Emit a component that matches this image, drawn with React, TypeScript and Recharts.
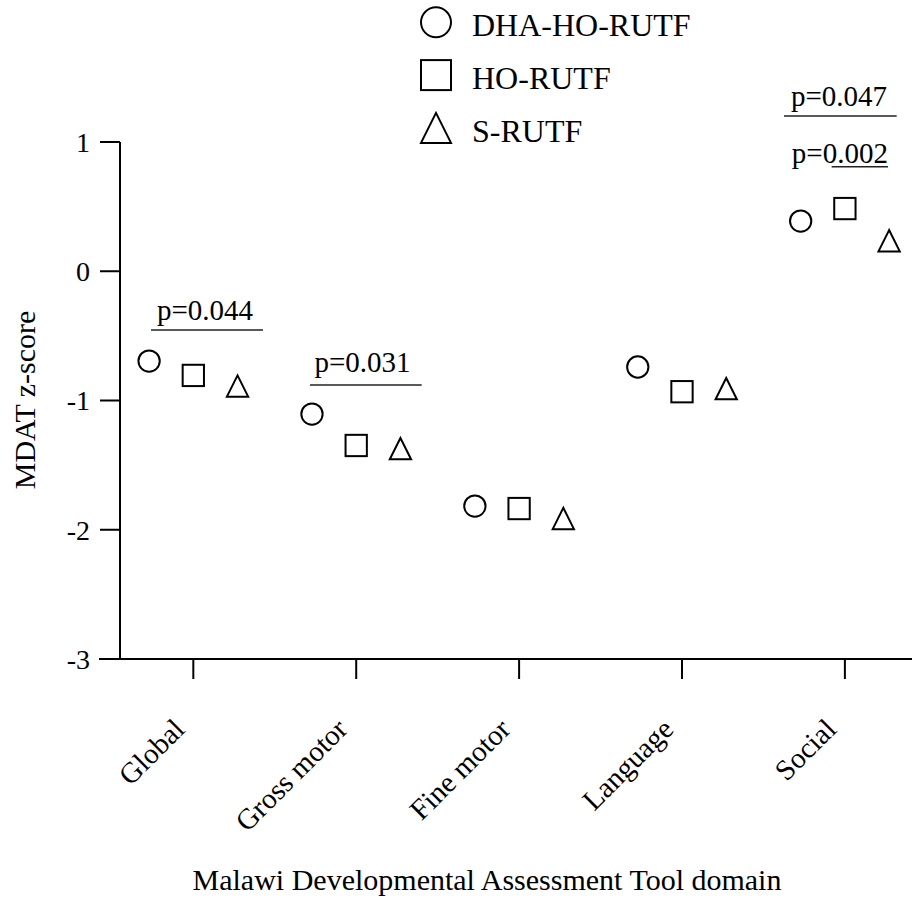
import React from 'react'
import {
  ScatterChart, Scatter, XAxis, YAxis, Legend, ReferenceLine, ReferenceDot
} from 'recharts'

const FONT = "'Liberation Serif', 'Times New Roman', serif"

// MDAT domains (x position = index + 1)
const domains = ['Global', 'Gross motor', 'Fine motor', 'Language', 'Social']
const yTicks = [-3, -2, -1, 0, 1]

// z-scores
const dhaHoRutf = [-0.695, -1.105, -1.817, -0.741, 0.388]
const hoRutf = [-0.806, -1.348, -1.836, -0.932, 0.485]
const sRutf = [-0.888, -1.373, -1.913, -0.908, 0.236]

// p-value annotations: label position and bar segment (data units)
const pLabels = ['p=0.044', 'p=0.031', 'p=0.047', 'p=0.002']
const pLabelX = [1.072, 2.039, 4.964, 4.969]
const pLabelY = [-0.377, -0.777, 1.279, 0.835]
const pBarX1 = [0.740, 1.716, 4.626, 4.919]
const pBarX2 = [1.428, 2.402, 5.318, 5.265]
const pBarY = [-0.455, -0.880, 1.201, 0.809]

const OFFSET = 0.2715
const toPoints = (vals: number[], shift: number) =>
  vals.map((v, i) => ({ x: i + 1 + shift, y: v }))

const series = [
  { name: 'DHA-HO-RUTF', kind: 'circle', data: toPoints(dhaHoRutf, -OFFSET) },
  { name: 'HO-RUTF', kind: 'square', data: toPoints(hoRutf, 0) },
  { name: 'S-RUTF', kind: 'triangle', data: toPoints(sRutf, OFFSET) },
]

const drawSymbol = (kind: string, cx: number, cy: number, s: number) => {
  const h = s / 2
  if (kind === 'circle')
    return <circle cx={cx} cy={cy} r={h} fill="#fff" stroke="#000" strokeWidth={2} />
  if (kind === 'square')
    return <rect x={cx - h} y={cy - h} width={s} height={s} fill="#fff" stroke="#000" strokeWidth={2} />
  return (
    <polygon
      points={`${cx},${cy - h} ${cx - h},${cy + h} ${cx + h},${cy + h}`}
      fill="#fff" stroke="#000" strokeWidth={2} strokeLinejoin="miter"
    />
  )
}

const markerShape = (kind: string) => (p: any) => drawSymbol(kind, p.cx, p.cy, 21.3)

const YTick = ({ x, y, payload }: any) => (
  <g>
    <line x1={x + 1} x2={x + 21} y1={y} y2={y} stroke="#000" strokeWidth={2} />
    <text x={x - 9} y={y} dy="0.35em" textAnchor="end" fontSize={28} fontFamily={FONT} fill="#000">
      {payload.value}
    </text>
  </g>
)

const XTick = ({ x, y, payload }: any) => {
  const ax = x - 7
  const ay = y + 52
  return (
    <text x={ax} y={ay} transform={`rotate(-45 ${ax} ${ay})`} textAnchor="end"
      fontSize={29} fontFamily={FONT} fill="#000">
      {domains[payload.value - 1]}
    </text>
  )
}

const LegendBox = () => (
  <svg width={912} height={160} style={{ display: 'block' }}>
    {series.map((s, i) => {
      const cy = 22.3 + i * 52.8
      return (
        <g key={s.name}>
          {drawSymbol(s.kind, 436, cy, 30)}
          <text x={472} y={cy + 13.8} fontSize={32} fontFamily={FONT} fill="#000">{s.name}</text>
        </g>
      )
    })}
  </svg>
)

const pText = (label: string) => (p: any) => (
  <text x={p.cx} y={p.cy} textAnchor="middle" fontSize={29} fontFamily={FONT} fill="#000">{label}</text>
)

export default function App() {
  return (
    <div style={{ width: 912, height: 898, background: '#fff', fontFamily: FONT }}>
      <style>{'body{margin:0}'}</style>
      <ScatterChart width={912} height={898} margin={{ top: 142, right: 0, bottom: 0, left: 0 }}>
        <XAxis
          type="number" dataKey="x" domain={[0.421, 5.412]} ticks={[1, 2, 3, 4, 5]}
          allowDataOverflow height={239} tickSize={20} tickMargin={0}
          axisLine={{ stroke: '#000', strokeWidth: 2 }}
          tickLine={{ stroke: '#000', strokeWidth: 2 }}
          tick={<XTick />}
          label={() => (
            <text x={487} y={890} textAnchor="middle" fontSize={30} fontFamily={FONT} fill="#000">
              Malawi Developmental Assessment Tool domain
            </text>
          )}
        />
        <YAxis
          type="number" dataKey="y" domain={[-3, 1]} ticks={yTicks} allowDataOverflow
          width={99} tickSize={0} tickMargin={0} axisLine={false} tickLine={false}
          tick={<YTick />}
          label={() => (
            <text x={35} y={400} transform="rotate(-90 35 400)" textAnchor="middle"
              fontSize={30} fontFamily={FONT} fill="#000">
              MDAT z-score
            </text>
          )}
        />
        <ReferenceLine
          segment={[{ x: 0.55, y: -3 }, { x: 0.55, y: 1 }]}
          stroke="#000" strokeWidth={2} ifOverflow="visible"
        />
        {pLabels.map((lab, i) => (
          <ReferenceLine
            key={'bar' + i}
            segment={[{ x: pBarX1[i], y: pBarY[i] }, { x: pBarX2[i], y: pBarY[i] }]}
            stroke="#222" strokeWidth={1.6} ifOverflow="visible"
          />
        ))}
        {pLabels.map((lab, i) => (
          <ReferenceDot
            key={'lab' + i} x={pLabelX[i]} y={pLabelY[i]} r={0}
            ifOverflow="visible" shape={pText(lab)}
          />
        ))}
        {series.map(s => (
          <Scatter
            key={s.name} name={s.name} data={s.data}
            shape={markerShape(s.kind)} isAnimationActive={false}
          />
        ))}
        <Legend
          layout="vertical" align="center" verticalAlign="middle"
          wrapperStyle={{ top: 0, left: 0, width: 912, height: 160 }}
          content={<LegendBox />}
        />
      </ScatterChart>
    </div>
  )
}
